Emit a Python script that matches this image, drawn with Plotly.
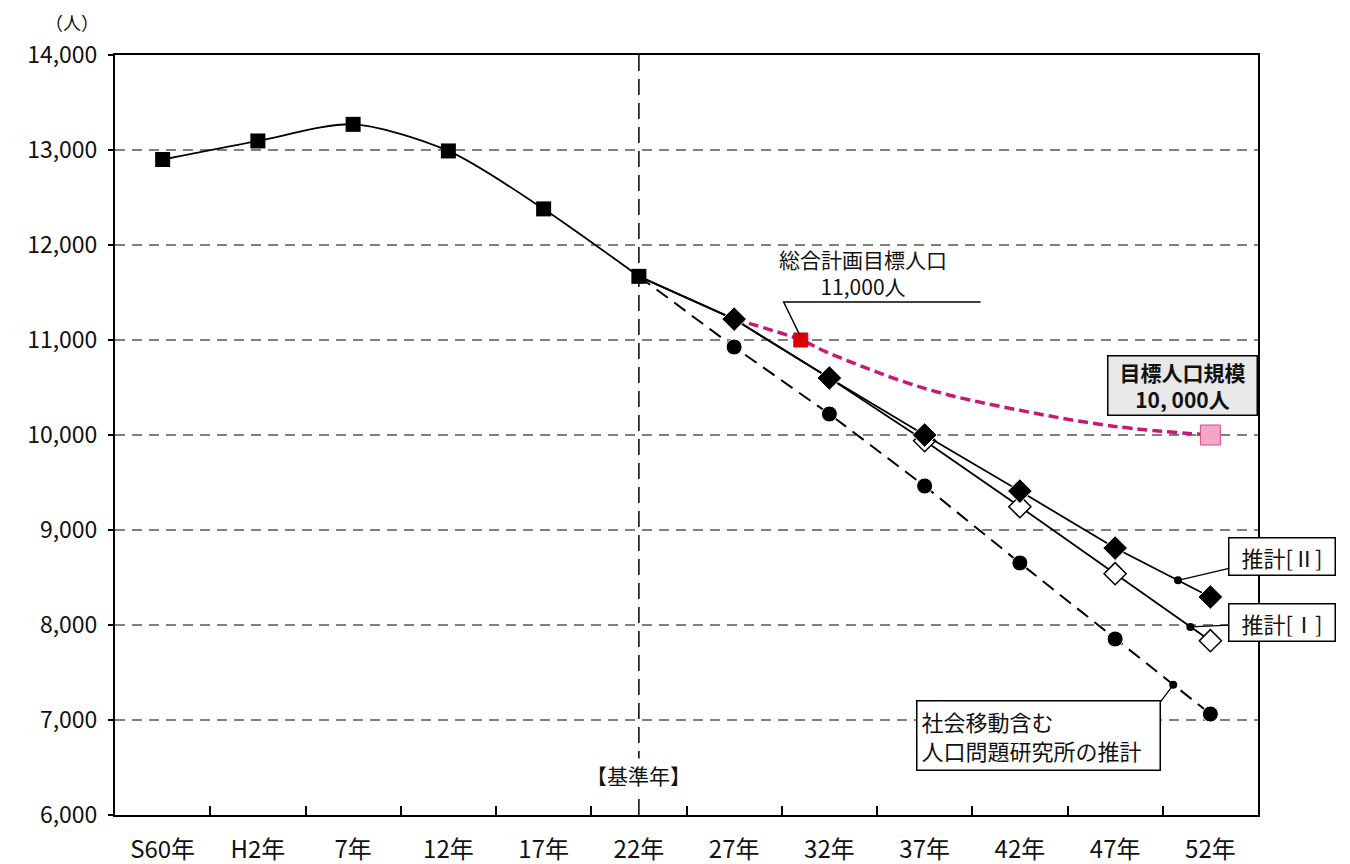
import plotly.graph_objects as go

# ---- data ----
tick_pos = [-3, 2, 7, 12, 17, 22, 27, 32, 37, 42, 47, 52]
tick_labels = ["S60年", "H2年", "7年", "12年", "17年", "22年", "27年", "32年",
               "37年", "42年", "47年", "52年"]
boundary_ticks = [-0.5, 4.5, 9.5, 14.5, 19.5, 24.5, 29.5, 34.5, 39.5, 44.5, 49.5]

hist_x = [-3, 2, 7, 12, 17, 22]
hist_y = [12900, 13095, 13270, 12990, 12380, 11670]

proj_x = [22, 27, 32, 37, 42, 47, 52]
est2_y = [11670, 11220, 10600, 10000, 9410, 8810, 8295]   # 推計[II]
est1_y = [11670, 11220, 10600, 9940, 9245, 8540, 7835]    # 推計[I]
ipss_y = [11670, 10926, 10221, 9463, 8653, 7853, 7063]    # 社人研

target_x = [27, 30.5, 32, 37, 42, 47, 52]
target_y = [11220, 11000, 10860, 10490, 10260, 10090, 10000]

leader_x = [50.3, 50.95, 50.05]
leader_y = [8470, 7980, 7370]

base_year = 22
FONT = "Noto Sans CJK JP"

fig = go.Figure()

# target curve
fig.add_trace(go.Scatter(
    x=target_x, y=target_y, mode="lines+markers",
    line=dict(color="#c8197a", width=3.5, dash="10px,5px", shape="spline"),
    marker=dict(symbol="square", opacity=1,
                size=[0, 14, 0, 0, 0, 0, 20],
                color=["#dd0000"] * 6 + ["#f4a6c6"],
                line=dict(color=["#dd0000"] * 6 + ["#c8508a"], width=1)),
    hoverinfo="skip"))

# IPSS projection (dashed)
fig.add_trace(go.Scatter(
    x=proj_x, y=ipss_y, mode="lines+markers",
    line=dict(color="black", width=2, dash="14px,8px"),
    marker=dict(symbol="circle", opacity=1, size=[0, 16, 16, 16, 16, 16, 16], color="black"),
    hoverinfo="skip"))

# Estimate I
fig.add_trace(go.Scatter(
    x=proj_x, y=est1_y, mode="lines+markers",
    line=dict(color="black", width=1.8),
    marker=dict(symbol="diamond", opacity=1, size=[0, 0, 0, 17, 17, 17, 17], color="white",
                line=dict(color="black", width=1.5)),
    hoverinfo="skip"))

# Estimate II
fig.add_trace(go.Scatter(
    x=proj_x, y=est2_y, mode="lines+markers",
    line=dict(color="black", width=1.8),
    marker=dict(symbol="diamond", opacity=1, size=[0, 19, 19, 19, 19, 19, 19], color="black"),
    hoverinfo="skip"))

# history
fig.add_trace(go.Scatter(
    x=hist_x, y=hist_y, mode="lines+markers",
    line=dict(color="black", width=1.8, shape="spline", smoothing=0.8),
    marker=dict(symbol="square", size=15, color="black"),
    hoverinfo="skip"))

# leader dots
fig.add_trace(go.Scatter(
    x=leader_x, y=leader_y, mode="markers",
    marker=dict(symbol="circle", size=8, color="black"),
    hoverinfo="skip"))

# base year vertical line
fig.add_shape(type="line", x0=base_year, x1=base_year, y0=6000, y1=14000,
              xref="x", yref="y", line=dict(color="black", width=1.5, dash="16px,8px"),
              layer="below")

# leader for 総合計画目標人口
fig.add_shape(type="path", path="M 39.94,11400 L 29.6,11400 L 30.45,11050",
              xref="x", yref="y", line=dict(color="black", width=1.5))
# leader for 社会移動 box (from box corner to dot)
fig.add_shape(type="line", x0=49.38, y0=7190, x1=leader_x[2], y1=leader_y[2],
              xref="x", yref="y", line=dict(color="black", width=1.3))

annos = [
    dict(x=-0.0376, y=1.0435, xref="paper", yref="paper", xanchor="center", yanchor="middle",
         text="（人）", showarrow=False, font=dict(size=18)),
    dict(x=base_year, y=6420, xref="x", yref="y", text="【基準年】", showarrow=False,
         bgcolor="white", font=dict(size=21)),
    dict(x=33.75, y=11420, xref="x", yref="y", yanchor="bottom", yshift=-3,
         text="総合計画目標人口<br>11,000人",
         showarrow=False, font=dict(size=21)),
    dict(x=50.53, y=10526, xref="x", yref="y", text="<b>目標人口規模</b><br><b>10, 000人</b>",
         showarrow=False, bgcolor="#e8e8e8", bordercolor="black", borderwidth=1.5,
         borderpad=3, width=142, height=52, font=dict(size=21)),
    dict(x=leader_x[0], y=leader_y[0], ax=55.78, ay=8726, axref="x", ayref="y",
         xref="x", yref="y", text="推計[Ⅱ]", showarrow=True, arrowhead=0, arrowwidth=1.3,
         arrowcolor="black", bgcolor="white", bordercolor="black", borderwidth=1.5,
         borderpad=4, width=97, height=28, font=dict(size=22)),
    dict(x=leader_x[1], y=leader_y[1], ax=55.78, ay=8026, axref="x", ayref="y",
         xref="x", yref="y", text="推計[Ⅰ]", showarrow=True, arrowhead=0, arrowwidth=1.3,
         arrowcolor="black", bgcolor="white", bordercolor="black", borderwidth=1.5,
         borderpad=4, width=97, height=28, font=dict(size=22)),
    dict(x=42.97, y=6832, xref="x", yref="y", text="社会移動含む<br>人口問題研究所の推計",
         align="left", showarrow=False,
         bgcolor="white", bordercolor="black", borderwidth=1.5, borderpad=4,
         width=234, height=60, font=dict(size=22)),
]
fig.update_layout(annotations=annos)

# page body has an 8px margin, so the figure is sized 8px smaller
fig.update_layout(
    width=1342, height=856,
    margin=dict(l=107, r=92, t=47, b=49),
    paper_bgcolor="white", plot_bgcolor="white",
    showlegend=False,
    font=dict(family=FONT, color="#111111", size=20),
    xaxis=dict(range=[-5.5, 54.5], tickmode="array", tickvals=tick_pos, ticktext=tick_labels,
               ticks="", showgrid=False, zeroline=False, showline=True, linecolor="black",
               linewidth=2, mirror=True, ticklabelstandoff=12, automargin=False,
               tickfont=dict(size=24, family=FONT),
               minor=dict(tickmode="array", tickvals=boundary_ticks, ticks="inside",
                          ticklen=9, tickwidth=2, tickcolor="black", showgrid=False)),
    yaxis=dict(range=[6000, 14000], dtick=1000, tick0=6000, tickformat=",d",
               ticks="outside", ticklen=5, tickwidth=1.5, tickcolor="black",
               showgrid=True, gridcolor="#808080", gridwidth=1.5, griddash="10px,7px",
               zeroline=False, showline=True, linecolor="black", linewidth=2, mirror=True,
               automargin=False,
               tickfont=dict(size=23, family=FONT), ticklabelstandoff=6),
)

fig.write_html("out.html")
